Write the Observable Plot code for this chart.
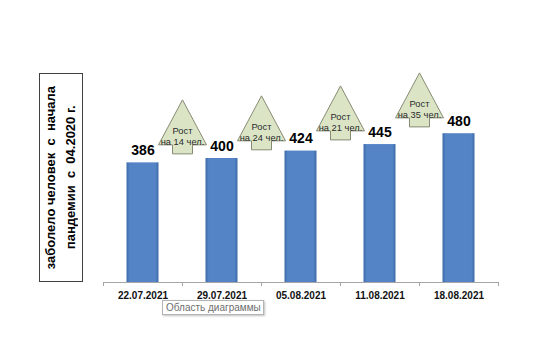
<!DOCTYPE html>
<html>
<head>
<meta charset="utf-8">
<script src="https://cdn.jsdelivr.net/npm/d3@7"></script>
<script src="https://cdn.jsdelivr.net/npm/@observablehq/plot@0.6"></script>
<style>
  body { margin: 0; background: #fff; }
  #wrap { position: relative; width: 540px; height: 360px; overflow: hidden; font-family: "Liberation Sans", Arial, sans-serif; }
  #wrap svg { position: absolute; left: 0; top: 0; }
  #ylab {
    position: absolute; left: 39px; top: 73px; width: 44px; height: 209px;
    border: 1px solid #404040; background: #fff; box-sizing: border-box;
    display: flex; align-items: center; justify-content: center;
  }
  #ylab div {
    writing-mode: vertical-rl; transform: rotate(180deg);
    font-weight: bold; font-size: 13px; line-height: 20px; text-align: center;
    white-space: pre; color: #000;
  }
  #tip {
    position: absolute; left: 162px; top: 300px; width: 102px; height: 15px; box-sizing: border-box;
    border: 1px solid #b4b4b4; background: #fff; box-shadow: 1px 1px 2px rgba(0,0,0,0.25);
    font-size: 10px; color: #6e6e6e; line-height: 13px; padding-left: 3px; white-space: nowrap;
  }
</style>
</head>
<body>
<div id="wrap">
  <div id="chart"></div>
</div>
<script>
const dates = ["22.07.2021", "29.07.2021", "05.08.2021", "11.08.2021", "18.08.2021"];
const cases = [386, 400, 424, 445, 480];
const growth = [14, 24, 21, 35];
const arrowBaseY = [415, 428, 460, 502];
const yLabelLines = ["заболело человек  с  начала", "пандемии  с  04.2020 г."];
const tipText = "Область диаграммы";

const bars = dates.map((d, i) => ({date: d, value: cases[i]}));
const arrows = growth.map((g, i) => ({date: dates[i], g, y: arrowBaseY[i]}));

const arrowSymbol = {
  draw(ctx, size) {
    ctx.moveTo(-10, 0);
    ctx.lineTo(-10, -9);
    ctx.lineTo(-24, -9);
    ctx.lineTo(0, -54);
    ctx.lineTo(24, -9);
    ctx.lineTo(10, -9);
    ctx.lineTo(10, 0);
    ctx.closePath();
  }
};

const half = 39.5;
const svg = Plot.plot({
  width: 540, height: 360,
  marginLeft: 103, marginRight: 42, marginTop: 96, marginBottom: 78,
  x: {domain: dates, padding: 0, axis: null},
  y: {domain: [0, 600], axis: null},
  style: {fontFamily: "'Liberation Sans', Arial, sans-serif", background: "transparent", color: "#111"},
  marks: [
    Plot.barY(bars, {x: "date", y: "value", fill: "url(#barGrad)", insetLeft: 23.5, insetRight: 23.5}),
    Plot.ruleY([0], {stroke: "#a6a6a6"}),
    Plot.ruleX(dates, {x: d => d, y1: 0, y2: -13, dx: -half, stroke: "#a6a6a6"}),
    Plot.ruleX([dates[dates.length - 1]], {x: d => d, y1: 0, y2: -13, dx: half, stroke: "#a6a6a6"}),
    Plot.text(bars, {x: "date", y: "value", text: d => String(d.value), dy: -8, lineAnchor: "bottom", fontWeight: "bold", fontSize: 14, fill: "#000"}),
    Plot.axisX({tickSize: 0, tickPadding: 9, fontWeight: "bold", fontSize: 10, label: null}),
    Plot.dot(arrows, {x: "date", y: "y", dx: half, symbol: arrowSymbol, r: 5, fill: "#dbe5c6", stroke: "#878b74", strokeWidth: 1}),
    Plot.text(arrows, {x: "date", y: "y", dx: half, dy: -17.5, text: d => `Рост\nна ${d.g} чел.`, fontSize: 9.3, lineHeight: 1.15, fill: "#2a2a2a"})
  ]
});

const defs = d3.select(svg).insert("defs", ":first-child");
const g = defs.append("linearGradient").attr("id", "barGrad").attr("x1", 0).attr("x2", 1).attr("y1", 0).attr("y2", 0);
[[0, "#3c6aa8"], [0.1, "#5584c6"], [0.9, "#5584c6"], [1, "#3c6aa8"]].forEach(([o, c]) =>
  g.append("stop").attr("offset", o).attr("stop-color", c));

document.getElementById("chart").appendChild(svg);

const yl = document.createElement("div");
yl.id = "ylab";
const inner = document.createElement("div");
inner.textContent = yLabelLines.join("\n");
yl.appendChild(inner);
document.getElementById("wrap").appendChild(yl);

const tip = document.createElement("div");
tip.id = "tip";
tip.textContent = tipText;
document.getElementById("wrap").appendChild(tip);
</script>
</body>
</html>
